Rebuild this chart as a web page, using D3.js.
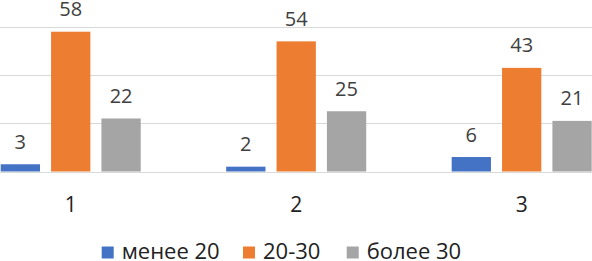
<!DOCTYPE html>
<html><head><meta charset="utf-8">
<script src="https://cdn.jsdelivr.net/npm/d3@7"></script>
<style>html,body{margin:0;padding:0;background:#fff;overflow:hidden}</style>
</head><body><svg id="c" width="592" height="261"></svg>
<script>
const categories = ["1","2","3"];
const seriesNames = ["менее 20","20-30","более 30"];
const seriesColors = ["#4472C4","#ED7D31","#A5A5A5"];
const lessThan20 = [3,2,6];
const from20to30 = [58,54,43];
const moreThan30 = [22,25,21];
const gridTicks = [0,20,40,60];

const seriesValues = [lessThan20, from20to30, moreThan30];
const svg = d3.select("#c");
const font = "'Open Sans', sans-serif";

const y = d3.scaleLinear().domain([0,60]).range([171.5,26.9]);
const x0 = d3.scaleBand().domain(categories).range([0.7,591.7]).paddingInner(0.379).paddingOuter(0);
const x1 = d3.scaleBand().domain(seriesNames).range([0,x0.bandwidth()]).paddingInner(0.22).paddingOuter(0);

// gridlines
svg.append("g").selectAll("line").data(gridTicks).join("line")
  .attr("x1",0).attr("x2",592)
  .attr("y1",d=>Math.round(y(d))+0.5).attr("y2",d=>Math.round(y(d))+0.5)
  .attr("stroke","#d9d9d9").attr("stroke-width",1);

const groups = svg.append("g").selectAll("g").data(categories).join("g")
  .attr("transform",c=>`translate(${x0(c)},0)`);

groups.each(function(c,ci){
  const g = d3.select(this);
  const data = seriesNames.map((s,si)=>({s,si,v:seriesValues[si][ci]}));
  g.selectAll("rect").data(data).join("rect")
    .attr("x",d=>x1(d.s)).attr("width",x1.bandwidth())
    .attr("y",d=>y(d.v)).attr("height",d=>y(0)-y(d.v))
    .attr("fill",d=>seriesColors[d.si]);
  g.selectAll("text").data(data).join("text")
    .attr("x",d=>x1(d.s)+x1.bandwidth()/2)
    .attr("y",d=>y(d.v)-15.5)
    .attr("text-anchor","middle")
    .attr("font-family",font).attr("font-size",20).attr("fill","#404040")
    .text(d=>d.v);
});

// category labels
svg.append("g").selectAll("text").data(categories).join("text")
  .attr("x",c=>x0(c)+x0.bandwidth()/2)
  .attr("y",211.5)
  .attr("text-anchor","middle")
  .attr("font-family",font).attr("font-size",21).attr("fill","#222")
  .text(c=>c);

// legend
const legendX = [101.7, 243, 346.7];
const lg = svg.append("g").selectAll("g").data(seriesNames).join("g")
  .attr("transform",(d,i)=>`translate(${legendX[i]},0)`);
lg.append("rect").attr("x",0).attr("y",246.5).attr("width",12).attr("height",12)
  .attr("fill",(d,i)=>seriesColors[i]);
lg.append("text").attr("x",20).attr("y",258.5)
  .attr("font-family",font).attr("font-size",22).attr("fill","#222")
  .text(d=>d);
</script></body></html>
